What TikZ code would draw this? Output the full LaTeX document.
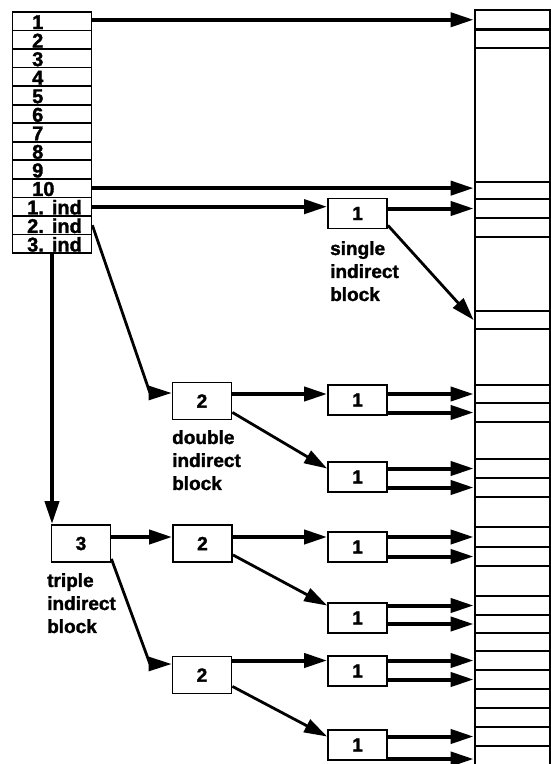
\documentclass[tikz,border=0pt]{standalone}
\usepackage{fontspec}
\setmainfont{Liberation Sans}[BoldFeatures={FakeBold=1.6}]
\usetikzlibrary{arrows.meta,calc}
\begin{document}
\begin{tikzpicture}[x=1pt,y=-1pt,
  lbl/.style={font=\fontsize{19}{23}\selectfont\bfseries, inner sep=0pt},
  clbl/.style={font=\fontsize{20}{23}\selectfont\bfseries, inner sep=0pt},
  rowbox/.style={draw, line width=1.7pt, minimum width=79pt, minimum height=18.54pt, inner sep=0pt},
  blk/.style={draw, line width=2.8pt, minimum width=75pt, inner sep=0pt},
  boxone/.style={draw, line width=1.8pt, minimum width=59pt, minimum height=30pt, inner sep=0pt, font=\fontsize{19}{23}\selectfont\bfseries},
  boxtwo/.style={draw, line width=1.8pt, minimum width=59pt, minimum height=37pt, inner sep=0pt, font=\fontsize{19}{23}\selectfont\bfseries},
  arr/.style={line width=4pt, -{Triangle[length=23pt,width=14pt]}},
  darr/.style={line width=2.8pt, -{Triangle[length=23pt,width=14pt]}},
]
\useasboundingbox (0,0) rectangle (551,764);

% left column (inode)
\foreach \i in {1,...,13} {
  \node[rowbox] (row\i) at (52, {12+18.54*(\i-0.5)}) {};
}
\foreach \i in {1,...,10} {
  \node[clbl, anchor=base west] (lab\i) at (32, {12+18.54*\i-1.5}) {\i};
}
\node[clbl, anchor=base west] (lab11) at (27, {12+18.54*11-1.5}) {1.\hspace{8pt}ind};
\node[clbl, anchor=base west] (lab12) at (27, {12+18.54*12-1.5}) {2.\hspace{8pt}ind};
\node[clbl, anchor=base west] (lab13) at (27, {12+18.54*13-1.5}) {3.\hspace{8pt}ind};

% right column (data blocks)
\foreach \t/\b [count=\i] in {10/29.5, 29.5/48, 48/182, 182/199, 199/218, 218/237, 237/311,
  311/329, 329/385, 385/403, 403/422, 422/459, 459/478, 478/497, 497/527, 527/547,
  547/566, 566/596, 596/615, 615/633, 633/651, 651/670, 670/689, 689/708, 708/727,
  727/746, 746/772} {
  \node[blk, minimum height={(\b-\t)*1pt}] (blk\i) at (512.5, {(\t+\b)/2}) {};
}

% indirect blocks
\node[boxone] (s1) at (357.5, 213.5) {1};
\node[boxtwo] (d2) at (202, 401) {2};
\node[boxone] (d1a) at (357.5, 400) {1};
\node[boxone] (d1b) at (357.5, 477) {1};
\node[boxtwo] (t3) at (81, 543.5) {3};
\node[boxtwo] (t2a) at (202.5, 543.5) {2};
\node[boxone] (t1a) at (357.5, 547) {1};
\node[boxone] (t1b) at (357.5, 618) {1};
\node[boxtwo] (t2b) at (202, 675) {2};
\node[boxone] (t1c) at (357.5, 671) {1};
\node[boxone] (t1d) at (357.5, 745) {1};

% labels
\node[lbl, anchor=north west, align=left] (ls) at (330, 241) {single\\indirect\\block};
\node[lbl, anchor=north west, align=left] (dl) at (172, 430) {double\\indirect\\block};
\node[lbl, anchor=north west, align=left] (tl) at (47, 573) {triple\\indirect\\block};

% direct pointers
\draw[arr] (row1.east |- blk1.west) -- (blk1.west);
\draw[arr] (row10.east) -- (row10.east -| blk4.west);

% single indirect
\draw[arr] (row11.east) -- (row11.east -| s1.west);
\draw[arr] (s1.east |- blk5.west) -- (blk5.west);
\draw[darr] ($(s1.south east)+(0,-4)$) -- (blk8.west);

% double indirect
\coordinate (dk) at (150, 393);
\draw[darr] (row12.east) -- (dk) -- (dk -| d2.west);
\draw[arr] (d2.east |- blk10.west) -- (d1a.west |- blk10.west);
\draw[arr] (d1a.east |- blk10.west) -- (blk10.west);
\draw[arr] (d1a.east |- blk11.west) -- (blk11.west);
\draw[darr] ($(d2.south east)+(0,-8)$) -- (d1b.west |- blk13.west);
\draw[arr] (d1b.east |- blk13.west) -- (blk13.west);
\draw[arr] (d1b.east |- blk14.west) -- (blk14.west);

% triple indirect
\draw[arr] (row13.south) -- (row13.south |- t3.north);
\draw[arr] (t3.east |- blk16.west) -- (t2a.west |- blk16.west);
\draw[arr] (t2a.east |- blk16.west) -- (t1a.west |- blk16.west);
\draw[arr] (t1a.east |- blk16.west) -- (blk16.west);
\draw[arr] (t1a.east |- blk17.west) -- (blk17.west);
\draw[darr] ($(t2a.south east)+(0,-8)$) -- (t1b.west |- blk19.west);
\draw[arr] (t1b.east |- blk19.west) -- (blk19.west);
\draw[arr] (t1b.east |- blk20.west) -- (blk20.west);
\coordinate (tk) at (150, 664);
\draw[darr] ($(t3.south east)+(0,-4)$) -- (tk) -- (tk -| t2b.west);
\draw[arr] (t2b.east |- blk22.west) -- (t1c.west |- blk22.west);
\draw[arr] (t1c.east |- blk22.west) -- (blk22.west);
\draw[arr] (t1c.east |- blk23.west) -- (blk23.west);
\draw[darr] ($(t2b.south east)+(0,-8)$) -- (t1d.west |- blk26.west);
\draw[arr] (t1d.east |- blk26.west) -- (blk26.west);
\draw[arr] (t1d.east |- blk27.west) -- (blk27.west);
\end{tikzpicture}
\end{document}
